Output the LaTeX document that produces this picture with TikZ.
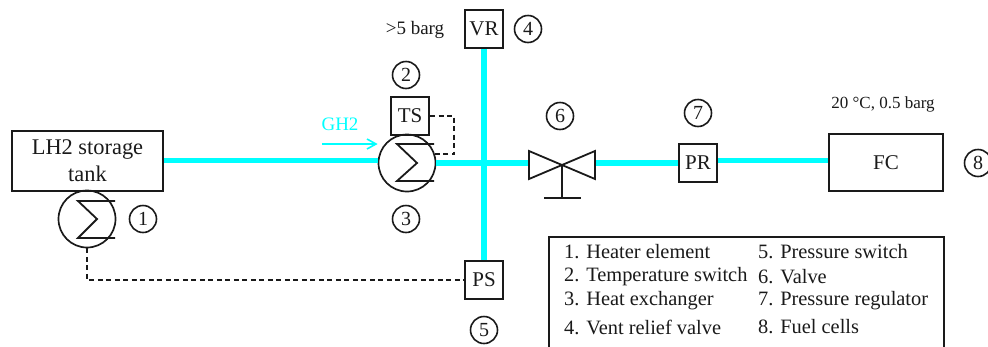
\documentclass[tikz,border=0pt]{standalone}
\usepackage{fontspec}
\setmainfont{Liberation Serif}
\usetikzlibrary{arrows.meta}
\definecolor{gh}{HTML}{00FFFF}
\definecolor{ink}{HTML}{1A1A1A}
\tikzset{
  box/.style={draw=ink,line width=2pt,rectangle,inner sep=0pt,anchor=center,text=ink,font=\fontsize{21}{24}\selectfont,align=center},
  unit/.style={box,minimum width=38pt,minimum height=38pt},
  num/.style={draw=ink,line width=1.6pt,circle,minimum size=27pt,inner sep=0pt,text=ink,font=\fontsize{20}{22}\selectfont},
  hx/.style={draw=ink,line width=1.7pt,circle,minimum size=57pt,inner sep=0pt},
  pipe/.style={draw=gh,line width=5.5pt},
  signal/.style={draw=ink,line width=2pt,dash pattern=on 5pt off 3.5pt},
  symb/.style={draw=ink,line width=1.8pt},
  lab/.style={text=ink,inner sep=0pt},
  item/.style={text=ink,font=\fontsize{20.4}{24}\selectfont,inner sep=0pt,anchor=west}
}
\begin{document}
\begin{tikzpicture}[x=1pt,y=-1pt]
\useasboundingbox (0,0) rectangle (988,346);
\clip (0,0) rectangle (988,346);
% equipment
\node[box,minimum width=151pt,minimum height=60pt,font=\fontsize{22.4}{27}\selectfont] (tank) at (87.5,161) {LH2 storage\\tank};
\node[hx] (he) at (87,219) {};
\node[hx] (hx) at (407,163) {};
\node[unit] (ts) at (410,116) {TS};
\node[unit] (vr) at (484,29) {VR};
\node[unit] (ps) at (484,280) {PS};
\node[unit] (pr) at (698,163) {PR};
\node[box,minimum width=114pt,minimum height=57pt] (fc) at (886,162.5) {FC};
\coordinate (vl) at (529,163);
\coordinate (vr2) at (595,163);
\coordinate (vc) at (562,165);
\coordinate (vb) at (562,198);
% pipes
\draw[pipe] (tank.east |- 0,160.5) -- (hx.west |- 0,160.5);
\draw[pipe] (hx.east) -- (vl);
\draw[pipe] (vr.south) -- (ps.north);
\draw[pipe] (vr2) -- (pr.west |- vr2);
\draw[pipe] (pr.east |- 0,160.5) -- (fc.west |- 0,160.5);
% heat-exchanger symbols
\draw[symb] (115,201) -- (78,201) -- (97,219) -- (78,238) -- (115,238);
\draw[symb] (434,144) -- (397,144) -- (417,163) -- (397,181) -- (434,181);
% valve
\draw[symb,line join=miter,fill=white] (vc) -- (529,151) -- (529,179) -- cycle;
\draw[symb,line join=miter,fill=white] (vc) -- (595,151) -- (595,179) -- cycle;
\draw[symb] (vc) -- (vb);
\draw[symb] (544,198) -- (581,198);
% signal lines
\coordinate (hxtap) at (434,154);
\draw[signal] (ts.east) -- (454,116) -- (454,154) -- (hxtap);
\draw[signal] (he.south) -- (87,280) -- (ps.west);
% GH2
\node[text=gh,font=\fontsize{19}{20}\selectfont,inner sep=0pt] (ghlabel) at (340,124) {GH2};
\coordinate (ghstart) at (322,144);
\draw[gh,line width=1.6pt,-{Straight Barb[length=9pt,width=10pt]}] (ghstart) -- (hx.west |- ghstart);
% numbers
\node[num] (n1) at (143,219) {1};
\node[num] (n2) at (406,75) {2};
\node[num] (n3) at (406,219) {3};
\node[num] (n4) at (528,29) {4};
\node[num] (n5) at (484,330) {5};
\node[num] (n6) at (560,116) {6};
\node[num] (n7) at (698,113) {7};
\node[num] (n8) at (978,163) {8};
% labels
\node[lab,font=\fontsize{19}{20}\selectfont] (p1) at (415,30) {>5 barg};
\node[lab,font=\fontsize{17}{20}\selectfont] (p2) at (883,104) {20 °C, 0.5 barg};
% legend
\node[box,anchor=north west,minimum width=395pt,minimum height=130pt] (legend) at (548,236) {};
\node[item] (l1) at (564,252) {1. Heater element};
\node[item] (l2) at (564,276.5) {2. Temperature switch};
\node[item] (l3) at (564,301) {3. Heat exchanger};
\node[item] (l4) at (564,327) {4. Vent relief valve};
\node[item] (l5) at (758,252) {5. Pressure switch};
\node[item] (l6) at (758,276.5) {6. Valve};
\node[item] (l7) at (758,301) {7. Pressure regulator};
\node[item] (l8) at (758,327) {8. Fuel cells};
\end{tikzpicture}
\end{document}
